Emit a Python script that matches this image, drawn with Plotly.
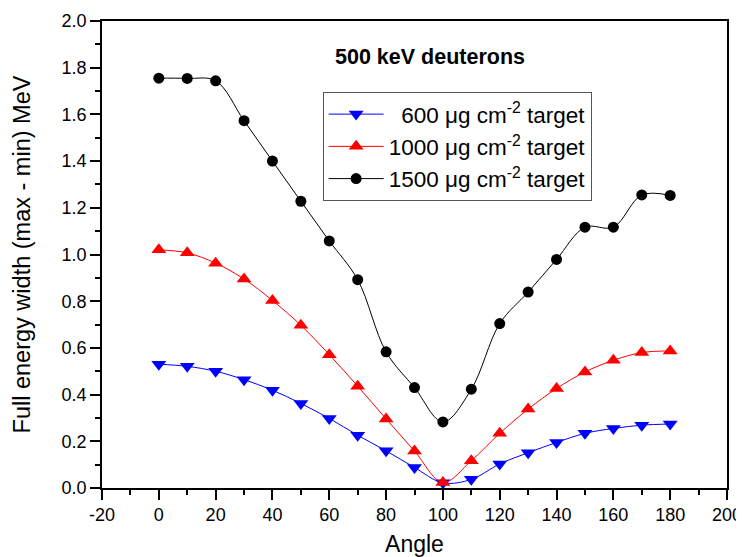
import plotly.graph_objects as go

angles = [0, 10, 20, 30, 40, 50, 60, 70, 80, 90, 100, 110, 120, 130, 140, 150, 160, 170, 180]
width_600 = [0.530, 0.521, 0.500, 0.464, 0.419, 0.362, 0.298, 0.226, 0.159, 0.088, 0.022,
             0.037, 0.103, 0.151, 0.195, 0.234, 0.255, 0.269, 0.274]
width_1000 = [1.020, 1.007, 0.963, 0.895, 0.803, 0.697, 0.571, 0.436, 0.296, 0.158, 0.024,
              0.117, 0.234, 0.338, 0.426, 0.497, 0.547, 0.580, 0.587]
width_1500 = [1.755, 1.754, 1.744, 1.573, 1.400, 1.228, 1.058, 0.892, 0.583, 0.430, 0.283,
              0.423, 0.704, 0.839, 0.979, 1.117, 1.117, 1.255, 1.253]

series_names = ["\u00a0\u00a0600 \u03bcg cm<sup>-2</sup> target",
                "1000 \u03bcg cm<sup>-2</sup> target",
                "1500 \u03bcg cm<sup>-2</sup> target"]
x_ticks = [-20, 0, 20, 40, 60, 80, 100, 120, 140, 160, 180, 200]
x_tick_labels = ["-20", "0", "20", "40", "60", "80", "100", "120", "140", "160", "180", "200"]
y_ticks = [0.0, 0.2, 0.4, 0.6, 0.8, 1.0, 1.2, 1.4, 1.6, 1.8, 2.0]

FONT = "Arial, 'Liberation Sans', sans-serif"

fig = go.Figure()
fig.add_trace(go.Scatter(x=angles, y=width_600, name=series_names[0], mode="lines+markers",
                         line=dict(color="#0000ff", width=1, shape="spline", smoothing=1),
                         marker=dict(symbol="triangle-down", size=13, color="#0000ff")))
fig.add_trace(go.Scatter(x=angles, y=width_1000, name=series_names[1], mode="lines+markers",
                         line=dict(color="#ff0000", width=1, shape="spline", smoothing=1),
                         marker=dict(symbol="triangle-up", size=13, color="#ff0000")))
fig.add_trace(go.Scatter(x=angles, y=width_1500, name=series_names[2], mode="lines+markers",
                         line=dict(color="#000000", width=1, shape="spline", smoothing=1),
                         marker=dict(symbol="circle", size=11, color="#000000")))

xr = [-20, 200]
yr = [0, 2.0]
axis_common = dict(showline=True, linecolor="black", linewidth=1.5, showgrid=False, zeroline=False,
                   tickcolor="black", tickwidth=1.5, ticklen=10, automargin=False,
                   tickfont=dict(family=FONT, size=18, color="black"))
minor_style = dict(ticklen=5, tickcolor="black", tickwidth=1.5, tick0=0)

# page body adds an 8px offset, so the figure is 736x549 placed at (8, 8)
fig.update_layout(
    width=736, height=549,
    paper_bgcolor="white", plot_bgcolor="white",
    margin=dict(l=94, r=17, t=13, b=69),
    font=dict(family=FONT, color="black"),
    xaxis=dict(range=xr, tickvals=x_ticks, ticktext=x_tick_labels, ticks="outside", mirror=True,
               minor=dict(ticks="outside", dtick=10, **minor_style),
               title=dict(text="Angle", font=dict(family=FONT, size=23), standoff=15),
               **axis_common),
    yaxis=dict(range=yr, tickvals=y_ticks, tickformat=".1f", ticks="outside", mirror=True,
               minor=dict(ticks="outside", dtick=0.1, **minor_style),
               title=dict(text="Full energy width (max - min) MeV", font=dict(family=FONT, size=23.5), standoff=24),
               **axis_common),
    xaxis2=dict(range=xr, overlaying="x", side="top", tickvals=x_ticks, ticks="inside",
                showticklabels=False,
                minor=dict(ticks="inside", dtick=10, **minor_style),
                **axis_common),
    yaxis2=dict(range=yr, overlaying="y", side="right", tickvals=y_ticks, ticks="inside",
                showticklabels=False,
                minor=dict(ticks="inside", dtick=0.1, **minor_style),
                **axis_common),
    legend=dict(x=0.353, y=0.848, xanchor="left", yanchor="top",
                bgcolor="white", bordercolor="#555555", borderwidth=1,
                font=dict(family=FONT, size=22.5, color="black"),
                itemwidth=55, tracegroupgap=0),
    showlegend=True,
    annotations=[dict(text="<b>500 keV deuterons</b>", x=0.525, y=0.922, xref="paper", yref="paper",
                      xanchor="center", yanchor="middle",
                      showarrow=False, font=dict(family=FONT, size=21.5, color="black"))],
)

fig.write_html("out.html")
